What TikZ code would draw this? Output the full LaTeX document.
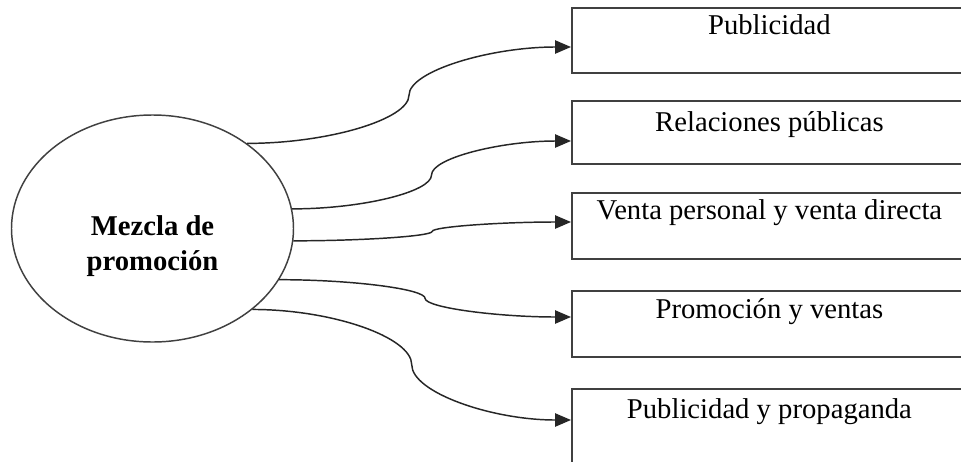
\documentclass[tikz,border=0pt]{standalone}
\usepackage{fontspec}
\setmainfont{Liberation Serif}
\usetikzlibrary{shapes.geometric,arrows.meta,calc}

\tikzset{
  % S-shaped connector: two cubic pieces meeting at the midpoint with a vertical tangent
  scurve/.style={to path={
    let \p1=(\tikztostart), \p2=(\tikztotarget) in
    .. controls ({(3*\x1+\x2)/4},\y1) and ({(\x1+\x2)/2},{(3*\y1+\y2)/4})
    .. ({(\x1+\x2)/2},{(\y1+\y2)/2})
    .. controls ({(\x1+\x2)/2},{(\y1+3*\y2)/4}) and ({(\x1+3*\x2)/4},\y2)
    .. (\tikztotarget)}},
  hub/.style={ellipse, draw=black!75, line width=1.1pt, minimum width=211.5pt,
    minimum height=170.25pt, inner sep=0pt},
  hubtext/.style={font=\fontsize{21.5}{26.5}\selectfont\bfseries, align=center},
  itembox/.style={rectangle, draw=black!75, line width=1.4pt, minimum width=296.25pt,
    anchor=north west, inner sep=0pt},
  itemtext/.style={font=\fontsize{21.5}{26}\selectfont, anchor=base},
  link/.style={draw=black!85, line width=1.1pt, -{Triangle[length=12pt,width=10pt]}, scurve}
}

\begin{document}
\begin{tikzpicture}[x=0.75pt,y=-0.75pt]
  \clip (0,0) rectangle (961,461);
  \fill[white] (0,0) rectangle (961,461);

  % central ellipse
  \node[hub] (mix) at (152.5,228.5) {};
  \node[hubtext] (mixtext) at (152.5,246) {Mezcla de\\promoción};

  % item boxes
  \node[itembox, minimum height=48.75pt] (b1) at (571,7) {};
  \node[itembox, minimum height=47.25pt] (b2) at (571,100) {};
  \node[itembox, minimum height=49.5pt]  (b3) at (571,192) {};
  \node[itembox, minimum height=49.5pt]  (b4) at (571,290) {};
  \node[itembox, minimum height=67.5pt]  (b5) at (571,388) {};

  \node[itemtext] (t1) at ($(b1.north)+(0,27)$) {Publicidad};
  \node[itemtext] (t2) at ($(b2.north)+(0,31)$) {Relaciones públicas};
  \node[itemtext] (t3) at ($(b3.north)+(0,27)$) {Venta personal y venta directa};
  \node[itemtext] (t4) at ($(b4.north)+(0,28)$) {Promoción y ventas};
  \node[itemtext] (t5) at ($(b5.north)+(0,30)$) {Publicidad y propaganda};

  % arrow end points on the left sides of the boxes
  \coordinate (e1) at ($(b1.north west)+(0,40)$);
  \coordinate (e2) at ($(b2.north west)+(0,41)$);
  \coordinate (e3) at ($(b3.north west)+(0,30)$);
  \coordinate (e4) at ($(b4.north west)+(0,27)$);
  \coordinate (e5) at ($(b5.north west)+(0,32)$);

  % connectors
  \draw[link] (mix.42.5) to (e1);
  \draw[link] (mix.8.7) to (e2);
  \draw[link] (mix.-5.9) to (e3);
  \draw[link] (mix.-22.8) to (e4);
  \draw[link] (mix.-39.2) to (e5);
\end{tikzpicture}
\end{document}
